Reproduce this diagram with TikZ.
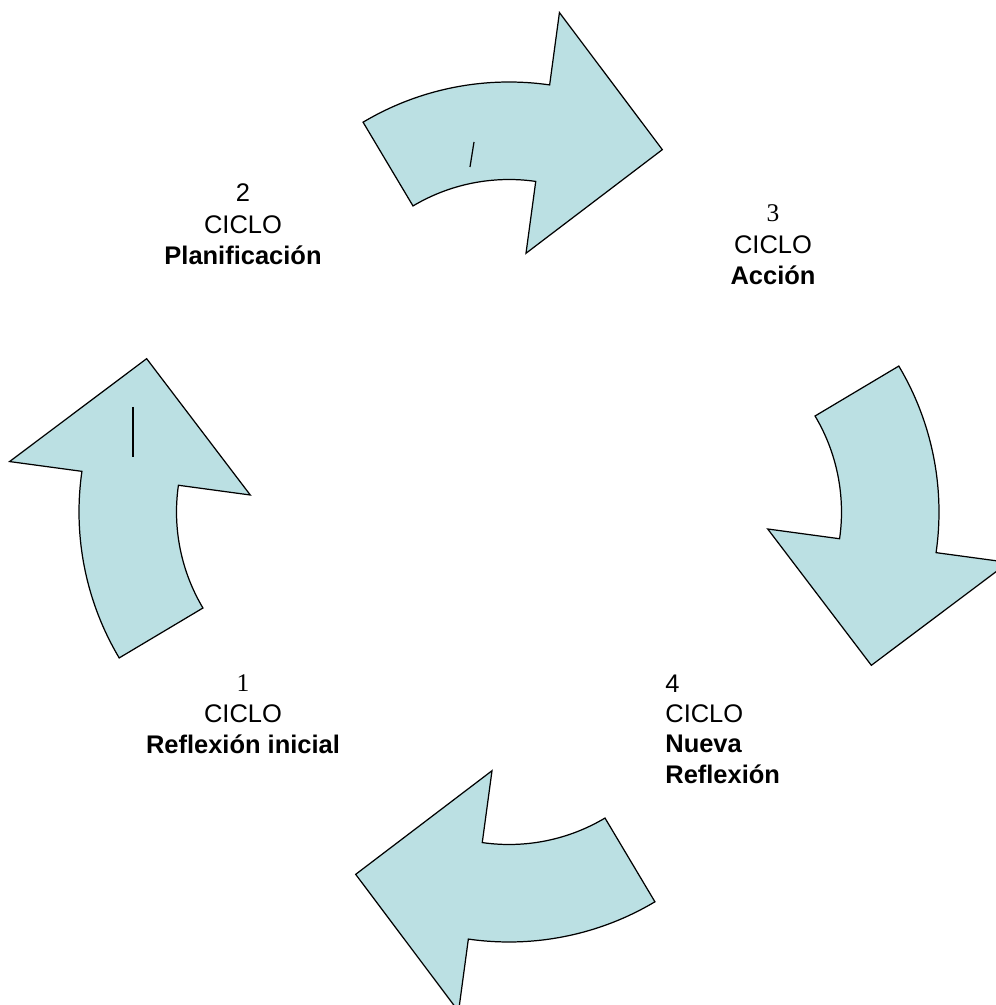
\documentclass[tikz,border=0pt]{standalone}
\usepackage{fontspec}
\setmainfont{Liberation Sans}
\newfontfamily\timesfont{Liberation Serif}
\usetikzlibrary{positioning}
\definecolor{arrowfill}{RGB}{187,224,227}
\def\labelsize{\fontsize{14.5}{17.5}\selectfont}

\begin{document}
\begin{tikzpicture}[x=0.02cm, y=0.02cm, node distance=0.62cm,
    every node/.style={font=\labelsize, inner sep=0pt},
    cycle arrow/.style={draw=black, line width=0.7pt, fill=arrowfill},
    cursor/.style={draw=black, line width=0.7pt}]
    \useasboundingbox (0,0) rectangle (996,1005);
    \clip (0,0) rectangle (996,1005);

    % Arrows
    \coordinate (O) at (509,493);
    \foreach \r in {0,90,180,270} {
        \begin{scope}[shift={(O)}, rotate=\r, shift={(0,145)}]
            \draw[cycle arrow] (120.8:285) arc[start angle=120.8, end angle=81.8, radius=285]
                -- (81.9:358) -- (54.8:266) -- (81.5:115) -- (81.8:187.5)
                arc[start angle=81.8, end angle=120.8, radius=187.5] -- cycle;
        \end{scope}
    }
    \draw[cursor] (474,863) -- (470,838);
    \draw[cursor] (133,598) -- (133,548);

    % Labels
    \node (n1) at (243,313) [anchor=base] {\timesfont 1};
    \node (c1) [below=0.62cm of n1.base, anchor=base] {CICLO};
    \node (t1) [below=0.61cm of c1.base, anchor=base] {\textbf{Reflexión inicial}};

    \node (n2) at (243,803) [anchor=base] {2};
    \node (c2) [below=0.63cm of n2.base, anchor=base] {CICLO};
    \node (t2) [below=0.62cm of c2.base, anchor=base] {\textbf{Planificación}};

    \node (n3) at (773,783) [anchor=base] {\timesfont 3};
    \node (c3) [below=0.64cm of n3.base, anchor=base] {CICLO};
    \node (t3) [below=0.61cm of c3.base, anchor=base] {\textbf{Acción}};

    \node (n4) at (665,312) [anchor=base west] {4};
    \node (c4) [below=0.59cm of n4.base west, anchor=base west] {CICLO};
    \node (t4) [below=0.6cm of c4.base west, anchor=base west] {\textbf{Nueva}};
    \node (u4) [below=0.62cm of t4.base west, anchor=base west] {\textbf{Reflexión}};
\end{tikzpicture}
\end{document}
